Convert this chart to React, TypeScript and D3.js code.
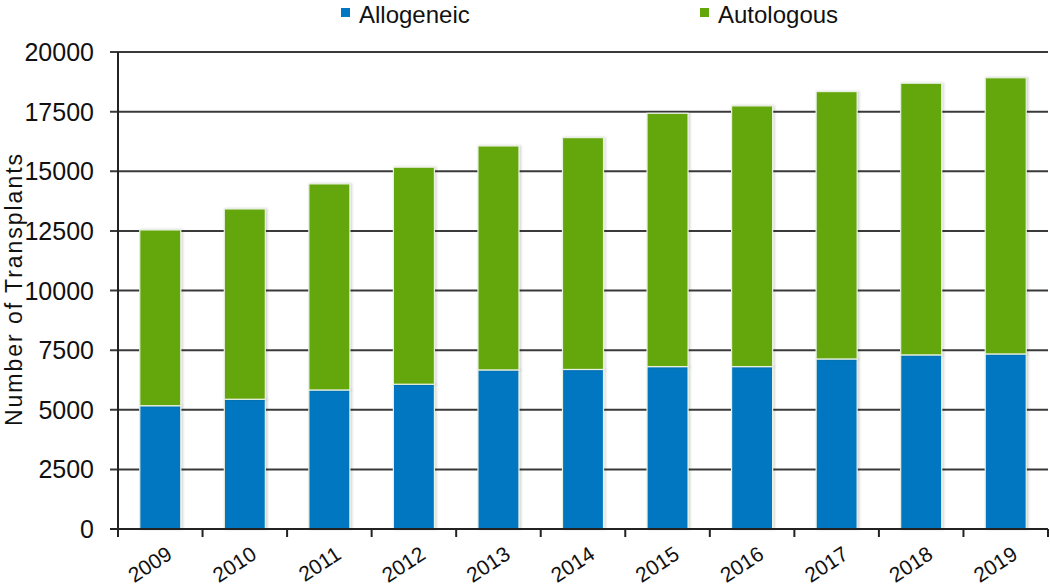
import React from "react";
import * as d3 from "d3";

const years = ["2009","2010","2011","2012","2013","2014","2015","2016","2017","2018","2019"];
const allogeneic = [5170, 5440, 5830, 6070, 6670, 6690, 6810, 6810, 7130, 7300, 7340];
const autologous = [7370, 7980, 8640, 9100, 9390, 9720, 10620, 10930, 11210, 11390, 11580];
const yTicks = [0, 2500, 5000, 7500, 10000, 12500, 15000, 17500, 20000];
const seriesNames = ["Allogeneic", "Autologous"];
const seriesColors = ["#0077C0", "#64A70B"];

const W = 1050, H = 588;
const left = 118, right = 1048, top = 52, bottom = 529;
const FONT = "'Liberation Sans', Arial, sans-serif";

export default function App() {
  const x = d3.scaleBand<string>().domain(years).range([left, right]).paddingInner(0.515).paddingOuter(0.2575);
  const y = d3.scaleLinear().domain([0, 20000]).range([bottom, top]);
  const step = x.step();
  const rows = years.map((yr, i) => ({ year: yr, Allogeneic: allogeneic[i], Autologous: autologous[i] }));
  const stack = d3.stack<any>().keys(seriesNames)(rows);
  const boundaries = d3.range(years.length + 1).map(i => left + i * step);

  return (
    <div style={{ position: "fixed", left: 0, top: 0 }}>
      <svg width={W} height={H} style={{ display: "block", background: "#fff" }}>
        <defs>
          <filter id="sh" x="-10%" y="-10%" width="130%" height="120%">
            <feDropShadow dx="1.5" dy="0" stdDeviation="1" floodColor="#000" floodOpacity="0.18" />
          </filter>
        </defs>
        {yTicks.map(t => (
          <line key={t} x1={left - 8} x2={right} y1={y(t)} y2={y(t)} stroke="#3a3a3a" strokeWidth={2} />
        ))}
        {stack.map((s, si) => (
          <g key={s.key} fill={seriesColors[si]} filter="url(#sh)">
            {s.map((d, i) => (
              <rect key={i} x={x(years[i])!} width={x.bandwidth()} y={y(d[1])} height={y(d[0]) - y(d[1])}
                stroke="#e8f0e0" strokeWidth={1.2} />
            ))}
          </g>
        ))}
        <line x1={left} x2={left} y1={top} y2={bottom + 8} stroke="#222" strokeWidth={2} />
        <line x1={left - 8} x2={right} y1={bottom} y2={bottom} stroke="#222" strokeWidth={2} />
        {boundaries.map((b, i) => (
          <line key={i} x1={b} x2={b} y1={bottom} y2={bottom + 8} stroke="#222" strokeWidth={2} />
        ))}
        {yTicks.map(t => (
          <text key={t} x={94} y={y(t)} dy="0.36em" textAnchor="end" fontFamily={FONT} fontSize={25} fill="#111">{t}</text>
        ))}
        {years.map(yr => {
          const cx = x(yr)! + x.bandwidth() / 2 + 5;
          const cy = bottom + 16;
          return (
            <text key={yr} transform={`translate(${cx},${cy}) rotate(-33)`} textAnchor="end" dy="0.72em"
              fontFamily={FONT} fontSize={21} fill="#111">{yr}</text>
          );
        })}
        <text transform={`translate(14,${(153 + 427) / 2}) rotate(-90)`} textAnchor="middle" dy="0.35em"
          fontFamily={FONT} fontSize={23} textLength={272} lengthAdjust="spacing" fill="#111">Number of Transplants</text>
        {[{ sx: 341, tx: 359 }, { sx: 700, tx: 718 }].map((p, i) => (
          <g key={i}>
            <rect x={p.sx} y={8} width={9} height={9} fill={seriesColors[i]} />
            <text x={p.tx} y={23} fontFamily={FONT} fontSize={24} fill="#111">{seriesNames[i]}</text>
          </g>
        ))}
      </svg>
    </div>
  );
}
